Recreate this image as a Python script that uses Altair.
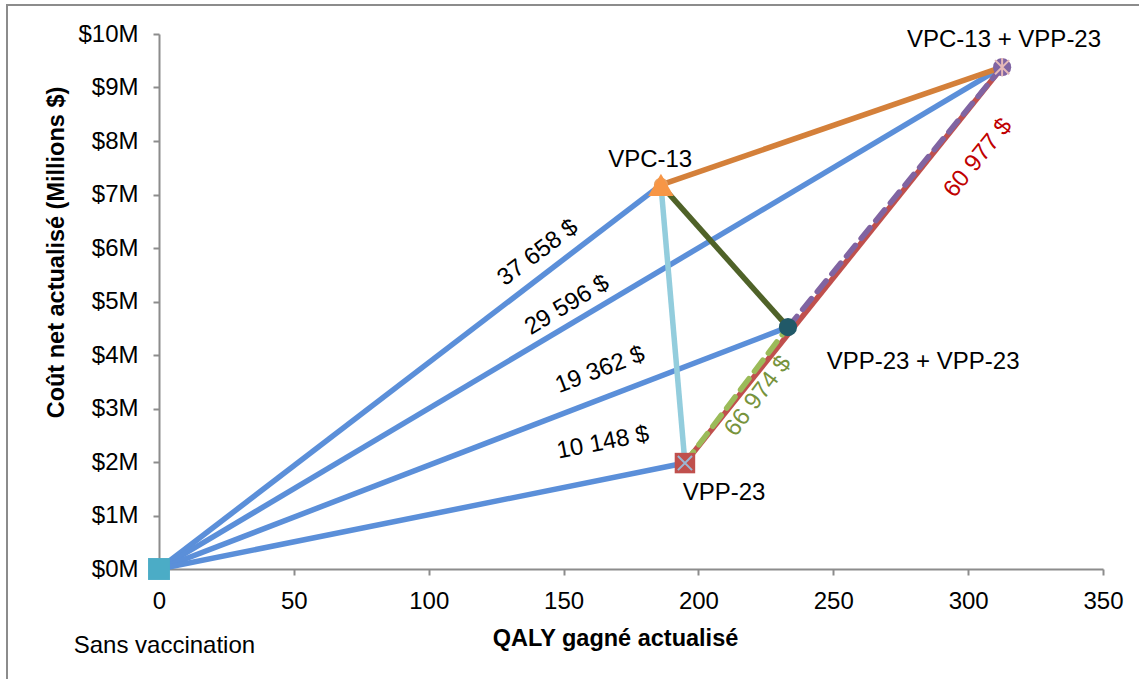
import altair as alt
import pandas as pd

# ---- data ----
names = ["Sans vaccination", "VPC-13", "VPP-23", "VPP-23 + VPP-23", "VPC-13 + VPP-23"]
qaly = [0.0, 186.1, 195.0, 233.2, 312.6]
cost = [0.0, 7.18, 1.98, 4.52, 9.38]

# segments between strategies (index into names)
seg_from = [0, 0, 0, 0, 1, 1, 1, 2, 3, 2]
seg_to = [1, 4, 3, 2, 2, 3, 4, 4, 4, 3]
seg_color = ["#5B8FD9", "#5B8FD9", "#5B8FD9", "#5B8FD9",
             "#93CDDD", "#4F6228", "#D4803A", "#C0504D", "#8064A2", "#9BBB59"]
seg_dashed = [False, False, False, False, False, False, False, False, True, True]

# ICER labels
icer_text = ["37 658 $", "29 596 $", "19 362 $", "10 148 $", "66 974 $", "60 977 $"]
icer_x = [140.5, 151.3, 163.5, 164.6, 222.1, 303.7]
icer_y = [5.91, 4.93, 3.72, 2.36, 3.23, 7.68]
icer_angle = [323, 329, 339, 349, 307, 309]
icer_color = ["#000000", "#000000", "#000000", "#000000", "#77933C", "#C00000"]

# point labels
lbl_x = [2.0, 182.1, 209.5, 283.3, 313.3]
lbl_y = [-1.44, 7.64, 1.42, 3.87, 9.89]

x_ticks = [0, 50, 100, 150, 200, 250, 300, 350]
y_ticks = [0, 1, 2, 3, 4, 5, 6, 7, 8, 9, 10]

FONT = "Liberation Sans"
FS = 24

# ---- tables ----
seg = pd.DataFrame({
    "x1": [qaly[i] for i in seg_from],
    "y1": [cost[i] for i in seg_from],
    "x2": [qaly[i] for i in seg_to],
    "y2": [cost[i] for i in seg_to],
    "color": seg_color,
    "dashed": seg_dashed,
})
pts = pd.DataFrame({"name": names, "qaly": qaly, "cost": cost})
icer = pd.DataFrame({"text": icer_text, "x": icer_x, "y": icer_y,
                     "angle": icer_angle, "color": icer_color})
lbl = pd.DataFrame({"text": names, "x": lbl_x, "y": lbl_y})

xs = alt.Scale(domain=[0, 350], nice=False, zero=False)
ys = alt.Scale(domain=[0, 10], nice=False, zero=False)

xaxis = alt.Axis(
    title="QALY gagné actualisé", values=x_ticks, grid=False, labelFlush=False,
    titleFont=FONT, titleFontSize=23.5, titleFontWeight="bold", titleColor="#000000",
    titleX=456, titleY=69, titleBaseline="middle", titleAlign="center",
    labelFont=FONT, labelFontSize=FS, labelColor="#000000", labelPadding=14,
    domainColor="#8c8c8c", domainWidth=2, tickColor="#8c8c8c", tickWidth=2, tickSize=6,
)
yaxis = alt.Axis(
    title="Coût net actualisé (Millions $)", values=y_ticks, grid=False, labelFlush=False,
    labelExpr="'$' + datum.value + 'M'",
    titleFont=FONT, titleFontSize=23.5, titleFontWeight="bold", titleColor="#000000",
    titleX=-103, titleY=218, titleAngle=270, titleBaseline="middle", titleAlign="center",
    labelFont=FONT, labelFontSize=FS, labelColor="#000000", labelPadding=15,
    domainColor="#8c8c8c", domainWidth=2, tickColor="#8c8c8c", tickWidth=2, tickSize=6,
)


def X(f):
    return alt.X(f, type="quantitative", scale=xs, axis=xaxis)


def Y(f):
    return alt.Y(f, type="quantitative", scale=ys, axis=yaxis)


border = alt.Chart(alt.Data(values=[{"a": 1}])).mark_rect(
    fillOpacity=0, stroke="#8c8c8c", strokeWidth=2
).encode(x=alt.value(-152), x2=alt.value(1010), y=alt.value(-29), y2=alt.value(720))

solid = alt.Chart(seg[~seg["dashed"]]).mark_rule(strokeWidth=5.5, strokeCap="butt").encode(
    x=X("x1"), y=Y("y1"), x2="x2:Q", y2="y2:Q",
    color=alt.Color("color:N", scale=None),
)
dashed = alt.Chart(seg[seg["dashed"]]).mark_rule(strokeWidth=5.5, strokeDash=[14, 9], strokeCap="round").encode(
    x=X("x1"), y=Y("y1"), x2="x2:Q", y2="y2:Q",
    color=alt.Color("color:N", scale=None),
)


def marker(idx, **kw):
    return alt.Chart(pts.iloc[[idx]]).mark_point(opacity=1, **kw).encode(x=X("qaly"), y=Y("cost"))


m0 = marker(0, shape="square", filled=True, size=480, color="#4BACC6")
m1a = marker(1, shape="circle", filled=True, size=200, color="#E9A060")
m1 = marker(1, shape="triangle-up", filled=True, size=650, color="#F79646")
m2 = marker(2, shape="square", filled=True, size=420, color="#C0504D")
m2x = marker(2, shape="M-1,-1L1,1M-1,1L1,-1", filled=False, size=200, color="#9BB7D4", strokeWidth=2)
m3 = marker(3, shape="circle", filled=True, size=330, color="#215968")
m4 = marker(4, shape="circle", filled=True, size=330, color="#8064A2")
m4x = marker(4, shape="M-1,-1L1,1M-1,1L1,-1M0,-1.3L0,1.3", filled=False, size=200, color="#E6B9B8", strokeWidth=2)

icer_layer = alt.Chart(icer).mark_text(font=FONT, fontSize=FS, align="center", baseline="middle").encode(
    x=X("x"), y=Y("y"), text="text:N",
    angle=alt.Angle("angle:Q", scale=None),
    color=alt.Color("color:N", scale=None),
)
lbl_layer = alt.Chart(lbl).mark_text(font=FONT, fontSize=FS, align="center", baseline="middle",
                                     color="#000000").encode(
    x=X("x"), y=Y("y"), text="text:N",
)

chart = alt.layer(
    border, solid, dashed, m0, m1a, m1, m2, m2x, m3, m4, m4x, icer_layer, lbl_layer
).properties(
    width=944, height=535,
    autosize=alt.AutoSizeParams(type="none"),
    padding={"left": 159, "top": 34, "right": 36, "bottom": 110},
    background="#ffffff",
).configure_view(stroke=None)

chart.save("out.html", embed_options={"renderer": "svg", "actions": False})
